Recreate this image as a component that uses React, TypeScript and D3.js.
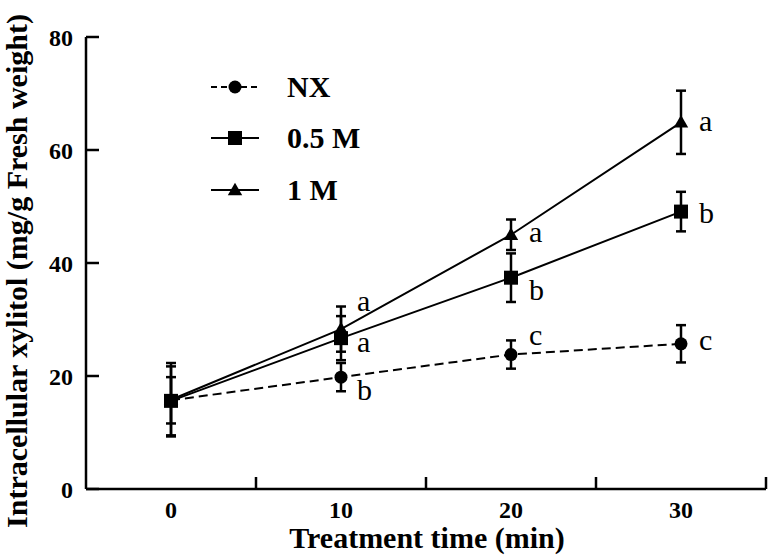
import React from "react";
import * as d3 from "d3";

const times = [0, 10, 20, 30];
const seriesNames = ["NX", "0.5 M", "1 M"];
const nxMean = [15.7, 19.8, 23.8, 25.7];
const nxErr = [4.1, 2.5, 2.5, 3.3];
const halfMean = [15.6, 26.7, 37.4, 49.1];
const halfErr = [6.1, 3.9, 4.3, 3.5];
const oneMean = [15.8, 28.3, 45.0, 64.9];
const oneErr = [6.5, 4.0, 2.7, 5.6];
const nxLetters = ["", "b", "c", "c"];
const halfLetters = ["", "a", "b", "b"];
const oneLetters = ["", "a", "a", "a"];
const xTickLabels = [0, 10, 20, 30];
const xMinorTicks = [5, 15, 25, 35];
const yTicks = [0, 20, 40, 60, 80];

// layout: letter vertical offsets (px) relative to point, per series per time
const letterDy = [
  [0, 23, -10, 6],
  [0, 14, 22, 11],
  [0, -18, 7, 9],
];

const W = 768;
const H = 557;
const serif = "'Liberation Serif', 'Times New Roman', serif";

export default function App() {
  const x = d3.scaleLinear().domain([-5, 35]).range([86, 766]);
  const y = d3.scaleLinear().domain([0, 80]).range([489, 37]);

  const series = [
    { name: seriesNames[0], mean: nxMean, err: nxErr, letters: nxLetters, dash: "9,5", marker: "circle" },
    { name: seriesNames[1], mean: halfMean, err: halfErr, letters: halfLetters, dash: undefined, marker: "square" },
    { name: seriesNames[2], mean: oneMean, err: oneErr, letters: oneLetters, dash: undefined, marker: "triangle" },
  ];

  const line = d3
    .line<number>()
    .x((_, i) => x(times[i]))
    .y((d) => y(d));

  const marker = (type: string, cx: number, cy: number, key: string) => {
    if (type === "circle") return <circle key={key} cx={cx} cy={cy} r={6.5} fill="#000" />;
    if (type === "square")
      return <rect key={key} x={cx - 7} y={cy - 7} width={14} height={14} fill="#000" />;
    const p = d3.symbol(d3.symbolTriangle, 90)();
    return <path key={key} d={p || ""} transform={`translate(${cx},${cy + 1})`} fill="#000" />;
  };

  const legendY = [87, 138, 190];

  return (
    <svg width={W} height={H} style={{ display: "block", position: "absolute", left: 0, top: 0, background: "#fff" }}>
      <rect width={W} height={H} fill="#fff" />
      {/* axes */}
      <line x1={x(-5)} y1={y(0)} x2={x(35)} y2={y(0)} stroke="#000" strokeWidth={2.5} />
      <line x1={x(-5)} y1={y(0)} x2={x(-5)} y2={y(80)} stroke="#000" strokeWidth={2.5} />
      {yTicks.map((t) => (
        <g key={"yt" + t}>
          <line x1={x(-5)} x2={x(-5) + 13} y1={y(t)} y2={y(t)} stroke="#000" strokeWidth={2.5} />
          <text x={73} y={y(t) + 9} textAnchor="end" fontFamily={serif} fontWeight="bold" fontSize={24}>
            {t}
          </text>
        </g>
      ))}
      {xMinorTicks.map((t) => (
        <line key={"xm" + t} x1={x(t)} x2={x(t)} y1={y(0)} y2={y(0) - 12} stroke="#000" strokeWidth={2.5} />
      ))}
      {xTickLabels.map((t) => (
        <text key={"xl" + t} x={x(t)} y={518} textAnchor="middle" fontFamily={serif} fontWeight="bold" fontSize={24}>
          {t}
        </text>
      ))}
      <text x={427} y={548} textAnchor="middle" fontFamily={serif} fontWeight="bold" fontSize={30}>
        Treatment time (min)
      </text>
      <text
        transform={`translate(27,271) rotate(-90)`}
        textAnchor="middle"
        fontFamily={serif}
        fontWeight="bold"
        fontSize={30}
      >
        Intracellular xylitol (mg/g Fresh weight)
      </text>

      {/* lines */}
      {series.map((s) => (
        <path key={"l" + s.name} d={line(s.mean) || ""} fill="none" stroke="#000" strokeWidth={2} strokeDasharray={s.dash} />
      ))}
      {/* error bars */}
      {series.map((s, si) =>
        s.mean.map((m, i) => {
          const cx = x(times[i]);
          const top = y(m + s.err[i]);
          const bot = y(m - s.err[i]);
          return (
            <g key={`e${si}-${i}`} stroke="#000" strokeWidth={2.5}>
              <line x1={cx} x2={cx} y1={top} y2={bot} />
              <line x1={cx - 5} x2={cx + 5} y1={top} y2={top} />
              <line x1={cx - 5} x2={cx + 5} y1={bot} y2={bot} />
            </g>
          );
        })
      )}
      {/* markers */}
      {series.map((s, si) => s.mean.map((m, i) => marker(s.marker, x(times[i]), y(m), `m${si}-${i}`)))}
      {/* letters */}
      {series.map((s, si) =>
        s.letters.map((l, i) =>
          l ? (
            <text
              key={`t${si}-${i}`}
              x={x(times[i]) + (i === 1 ? 16 : 18)}
              y={y(s.mean[i]) + letterDy[si][i]}
              fontFamily={serif}
              fontSize={30}
            >
              {l}
            </text>
          ) : null
        )
      )}
      {/* legend */}
      {series.map((s, si) => (
        <g key={"lg" + si}>
          <line x1={211} x2={259} y1={legendY[si]} y2={legendY[si]} stroke="#000" strokeWidth={2} strokeDasharray={s.dash ? "6,4" : undefined} />
          {marker(s.marker, 235, legendY[si], "lm" + si)}
          <text x={287} y={legendY[si] + 10} fontFamily={serif} fontWeight="bold" fontSize={30}>
            {s.name}
          </text>
        </g>
      ))}
    </svg>
  );
}
